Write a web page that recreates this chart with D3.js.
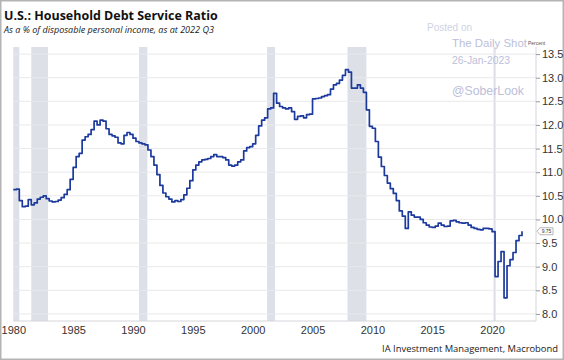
<!DOCTYPE html>
<html><head><meta charset="utf-8">
<script src="https://cdn.jsdelivr.net/npm/d3@7"></script>
<style>html,body{margin:0;padding:0;background:#fff;}svg{display:block;}</style>
</head><body>
<svg id="c" width="564" height="360"></svg>
<script>
// ---- data ----
const startYear = 1980; // first quarter = 1980 Q1, quarterly values
const dsr = [
 10.63,10.64,10.40,10.27, 10.28,10.42,10.31,10.35, 10.43,10.47,10.50,10.44, 10.39,10.37,10.38,10.41,
 10.46,10.53,10.63,10.85, 11.10,11.33,11.40,11.68, 11.75,11.80,11.90,12.08, 12.00,12.10,12.08,11.92,
 11.80,11.77,11.74,11.62, 11.60,11.78,11.84,11.80, 11.72,11.65,11.62,11.60, 11.58,11.47,11.33,11.15,
 10.95,10.72,10.56,10.48, 10.43,10.37,10.40,10.38, 10.42,10.52,10.66,10.82, 11.05,11.15,11.22,11.26,
 11.27,11.29,11.33,11.37, 11.33,11.33,11.31,11.26, 11.15,11.13,11.15,11.22, 11.26,11.45,11.52,11.54,
 11.60,11.78,11.98,12.10, 12.15,12.34,12.36,12.67, 12.46,12.39,12.36,12.34, 12.36,12.28,12.12,12.18,
 12.19,12.15,12.22,12.23, 12.55,12.56,12.57,12.60, 12.62,12.64,12.76,12.85, 12.88,12.95,13.05,13.17,
 13.12,12.78,12.78,12.85, 12.78,12.69,12.32,11.97, 11.93,11.65,11.32,11.12, 10.93,10.77,10.65,10.55,
 10.40,10.18,10.07,9.81, 10.16,10.09,10.05,10.05, 10.00,9.93,9.88,9.84, 9.83,9.86,9.92,9.88,
 9.85,9.86,9.97,9.98, 9.95,9.93,9.92,9.93, 9.88,9.83,9.81,9.79, 9.78,9.81,9.81,9.80,
 9.74,8.79,9.11,9.32, 8.34,9.02,9.15,9.30, 9.55,9.66,9.75
];
const recStart = [1980.0, 1981.5, 1990.5, 2001.2, 2007.92, 2020.12];
const recEnd   = [1980.5, 1982.9, 1991.2, 2001.87, 2009.5, 2020.3];
const yTicks = [8.0, 8.5, 9.0, 9.5, 10.0, 10.5, 11.0, 11.5, 12.0, 12.5, 13.0, 13.5];
const xTicks = [1980, 1985, 1990, 1995, 2000, 2005, 2010, 2015, 2020];
const lastLabel = "9.75";
const titleText = "U.S.: Household Debt Service Ratio";
const subtitleText = "As a % of disposable personal income, as at 2022 Q3";
const sourceText = "IA Investment Management, Macrobond";

// ---- layout ----
const svg = d3.select("#c");
const L = 13.3, R = 536, T = 47, B = 321;
const x = d3.scaleLinear().domain([1980, 2023.67]).range([L, R]);
const y = d3.scaleLinear().domain([7.85, 13.65]).range([B, T]);
const font = "'Open Sans', 'Noto Sans', sans-serif";
const tickFont = "'Liberation Sans', Arial, sans-serif";

// fit a text element's font size to a target width
function fitWidth(sel, target) {
  const n = sel.node();
  const fs = +sel.attr("font-size");
  const w = n.getComputedTextLength();
  if (w > 0) sel.attr("font-size", (fs * target / w).toFixed(2));
  return sel;
}

// frame
svg.append("rect").attr("x",0.75).attr("y",0.75).attr("width",562.5).attr("height",358.5)
  .attr("fill","#fff").attr("stroke","#b4b4b4").attr("stroke-width",1.5);

// recession bands
svg.append("g").selectAll("rect").data(recStart.map((s,i)=>[s,recEnd[i]])).join("rect")
  .attr("x", d=>x(d[0])).attr("width", d=>Math.max(1.5, x(d[1])-x(d[0])))
  .attr("y", T).attr("height", B-T).attr("fill", "#dde0e7");

// grid
svg.append("g").selectAll("line").data(yTicks).join("line")
  .attr("x1", L).attr("x2", R).attr("y1", d=>y(d)).attr("y2", d=>y(d))
  .attr("stroke", "#e9e9ec").attr("stroke-width", 1);

// right axis
const ya = d3.axisRight(y).tickValues(yTicks).tickFormat(d3.format(".1f")).tickSize(4).tickPadding(2);
const yg = svg.append("g").attr("transform", `translate(${R},0)`).call(ya);
yg.select(".domain").attr("stroke", "#d6d6da").attr("d", `M0,${T}V${B}`);
yg.selectAll(".tick line").attr("stroke", "#9a9a9a");
yg.selectAll(".tick text").attr("font-family", tickFont).attr("font-size", 11).attr("fill", "#333");

// bottom axis
const xa = d3.axisBottom(x).tickValues(xTicks).tickFormat(d3.format("d")).tickSize(0).tickPadding(5);
const xg = svg.append("g").attr("transform", `translate(0,${B})`).call(xa);
xg.select(".domain").attr("stroke", "#d6d6da").attr("d", `M${L},0H${R}`);
xg.selectAll(".tick text").attr("font-family", tickFont).attr("font-size", 11).attr("fill", "#333");

// line
const line = d3.line().x((d,i)=>x(startYear + i/4)).y(d=>y(d)).curve(d3.curveStepAfter);
svg.append("path").datum(dsr).attr("d", line).attr("fill","none")
  .attr("stroke", "#1c3a9e").attr("stroke-width", 1.7).attr("stroke-linejoin","round");

// last value callout
const ly = y(dsr[dsr.length-1]);
svg.append("path").attr("d", `M${R+1},${ly} L${R+4},${ly-3.5} H${R+17} V${ly+3.5} H${R+4} Z`)
  .attr("fill","#fff").attr("stroke","#9a9a9a").attr("stroke-width",0.7);
svg.append("text").attr("x", R+10.5).attr("y", ly+1.8).attr("text-anchor","middle")
  .attr("font-family",tickFont).attr("font-size",5).attr("fill","#333").text(lastLabel);

// "Percent"
svg.append("text").attr("x", 528).attr("y", 45).attr("font-family",tickFont)
  .attr("font-size",5).attr("fill","#555").text("Percent");

// titles
fitWidth(svg.append("text").attr("x",4).attr("y",20).attr("font-family",font).attr("font-weight","bold")
  .attr("font-size",14.5).attr("fill","#111").text(titleText), 214);
fitWidth(svg.append("text").attr("x",4).attr("y",33).attr("font-family",font).attr("font-style","italic")
  .attr("font-size",9.5).attr("fill","#222").text(subtitleText), 210);
fitWidth(svg.append("text").attr("x",558).attr("y",352).attr("text-anchor","end").attr("font-family",font)
  .attr("font-size",11).attr("fill","#222").text(sourceText), 176);

// watermark
const wm = svg.append("g").attr("font-family",tickFont);
wm.append("text").attr("x",427).attr("y",31).attr("font-size",10).attr("fill","#cfd2e4").text("Posted on");
fitWidth(wm.append("text").attr("x",452).attr("y",47).attr("font-size",13).attr("fill","#bcc0da").text("The Daily Shot"), 75);
fitWidth(wm.append("text").attr("x",452).attr("y",64).attr("font-size",10).attr("fill","#bcc0da").text("26-Jan-2023"), 58);
fitWidth(wm.append("text").attr("x",452).attr("y",95).attr("font-size",13).attr("fill","#bcc0da").text("@SoberLook"), 72);
</script>
</body></html>
